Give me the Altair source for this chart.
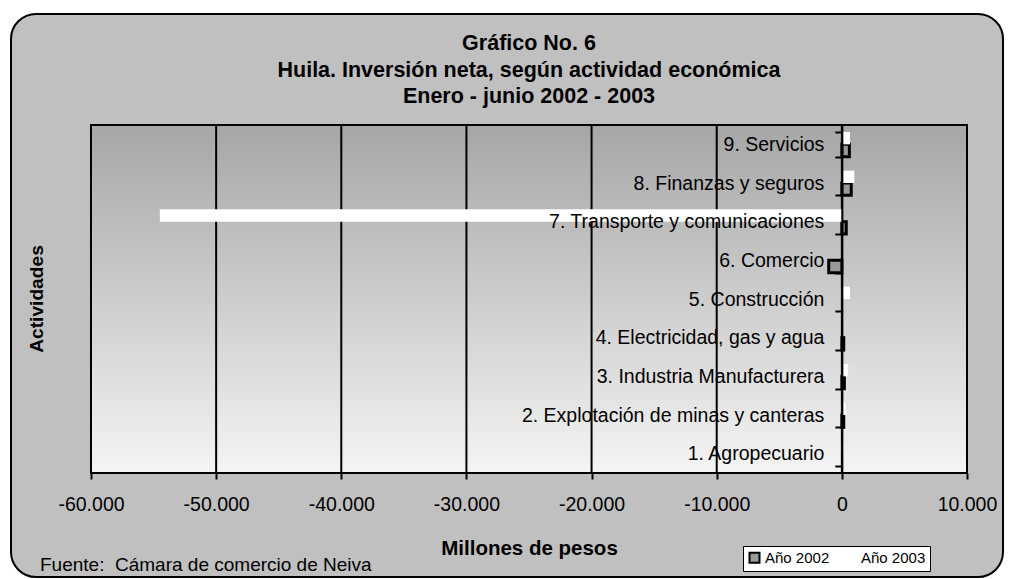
import altair as alt
import pandas as pd

# ---- data ----
categorias = [
    "9. Servicios",
    "8. Finanzas y seguros",
    "7. Transporte y comunicaciones",
    "6. Comercio",
    "5. Construcción",
    "4. Electricidad, gas y agua",
    "3. Industria Manufacturera\u00a0\u00a0\u00a0",
    "2. Explotación de minas y canteras",
    "1. Agropecuario",
]
valores_2002 = [600, 750, 350, -1050, 0, 150, 200, 150, 0]
valores_2003 = [650, 1000, -54500, 0, 650, 0, 500, 320, 130]
series = ["Año 2002", "Año 2003"]
ticks_x = [-60000, -50000, -40000, -30000, -20000, -10000, 0, 10000]
titulo = [
    "Gráfico No. 6",
    "Huila. Inversión neta, según actividad económica",
    "Enero - junio 2002 - 2003",
]
titulo_y = "Actividades"
titulo_x = "Millones de pesos"
fuente = "Fuente:\u00a0\u00a0Cámara de comercio de Neiva"

# ---- layout ----
W, H = 876, 348
X_MIN, X_MAX = -60000, 10000
FONT = "Liberation Sans"
FS = 19.5

rows = []
for cat, v02, v03 in zip(categorias, valores_2002, valores_2003):
    rows.append({"actividad": cat, "serie": series[0], "valor": v02})
    rows.append({"actividad": cat, "serie": series[1], "valor": v03})
df = pd.DataFrame(rows)
df_ticks = pd.DataFrame({"valor": ticks_x})
one = pd.DataFrame({"k": [0]})

zero_px = W * (0 - X_MIN) / (X_MAX - X_MIN)
x_scale = alt.Scale(domain=[X_MIN, X_MAX], nice=False)

x_axis = alt.Axis(
    values=ticks_x,
    labelExpr="replace(replace(format(datum.value, ','), ',', '.'), '\u2212', '-')",
    grid=False, domain=False, ticks=True, tickColor="black", tickWidth=2, tickSize=6,
    labelFontSize=FS, labelColor="black", labelPadding=16, labelFlush=False, labelOverlap=False,
    labelFont=FONT,
    title=titulo_x, titleFontSize=20.5, titleFontWeight="bold", titleColor="black",
    titlePadding=25, titleFont=FONT,
    zindex=1,
)
y_axis = alt.Axis(
    title=None, offset=-zero_px, domain=True, domainColor="black", domainWidth=2,
    ticks=True, tickBand="extent", tickColor="black", tickWidth=2, tickSize=7,
    labelPadding=11, labelFontSize=FS, labelColor="black", labelLimit=600, labelFont=FONT,
    zindex=1,
)
legend = alt.Legend(
    title=None, orient="none", legendX=652, legendY=421, direction="horizontal",
    fillColor="white", strokeColor="black", padding=4,
    labelFontSize=15, labelColor="black", labelFont=FONT, labelOffset=3,
    symbolType="square", symbolSize=100, symbolStrokeWidth=2, columnPadding=11,
)

frame = alt.Chart(one).mark_rect(
    fill="#c0c0c0", stroke="black", strokeWidth=2, cornerRadius=25
).encode(x=alt.value(11 - 91), x2=alt.value(1003 - 91), y=alt.value(14 - 125), y2=alt.value(577 - 125))

grad = alt.Chart(one).mark_rect(
    fill=alt.Gradient(
        gradient="linear",
        stops=[alt.GradientStop(color="#a6a6a6", offset=0), alt.GradientStop(color="#f4f4f4", offset=1)],
        x1=0, x2=0, y1=0, y2=1,
    )
).encode(x=alt.value(0), x2=alt.value(W), y=alt.value(0), y2=alt.value(H))

rules = alt.Chart(df_ticks).mark_rule(color="black", strokeWidth=2).encode(
    x=alt.X("valor:Q", scale=x_scale, axis=x_axis)
)

bars = alt.Chart(df).transform_filter("datum.valor != 0").mark_bar(strokeWidth=3).encode(
    x=alt.X("valor:Q", scale=x_scale, axis=x_axis),
    y=alt.Y("actividad:N", sort=categorias,
            scale=alt.Scale(domain=categorias, paddingInner=0.36, paddingOuter=0.18), axis=y_axis),
    yOffset=alt.YOffset("serie:N", scale=alt.Scale(domain=[series[1], series[0]], paddingInner=0, paddingOuter=0)),
    fill=alt.Fill("serie:N", scale=alt.Scale(domain=series, range=["#999999", "#ffffff"]), legend=legend),
    stroke=alt.Stroke("serie:N", scale=alt.Scale(domain=series, range=["#000000", "transparent"]), legend=legend),
)

border = alt.Chart(one).mark_rect(fillOpacity=0, stroke="black", strokeWidth=2).encode(
    x=alt.value(0), x2=alt.value(W), y=alt.value(0), y2=alt.value(H)
)

title_txt = alt.Chart(one).mark_text(
    text=titulo, lineHeight=26.7, fontSize=21.5, fontWeight="bold", color="black",
    align="center", baseline="alphabetic", font=FONT,
).encode(x=alt.value(W / 2), y=alt.value(50 - 125))

ytitle = alt.Chart(one).mark_text(
    text=titulo_y, angle=270, fontSize=19.2, fontWeight="bold", color="black",
    align="center", baseline="middle", font=FONT,
).encode(x=alt.value(37 - 91), y=alt.value(299 - 125))

src = alt.Chart(one).mark_text(
    text=fuente, align="left", baseline="alphabetic", fontSize=19, color="black", font=FONT,
).encode(x=alt.value(40 - 91), y=alt.value(571 - 125))

chart = alt.layer(frame, grad, rules, bars, border, title_txt, ytitle, src).properties(
    width=W, height=H,
    autosize=alt.AutoSizeParams(type="none"),
    padding={"left": 83, "top": 117, "right": 37, "bottom": 106},
).configure(font=FONT, background="white").configure_view(stroke="transparent")

chart.save("out.html", embed_options={"renderer": "svg", "actions": False})
